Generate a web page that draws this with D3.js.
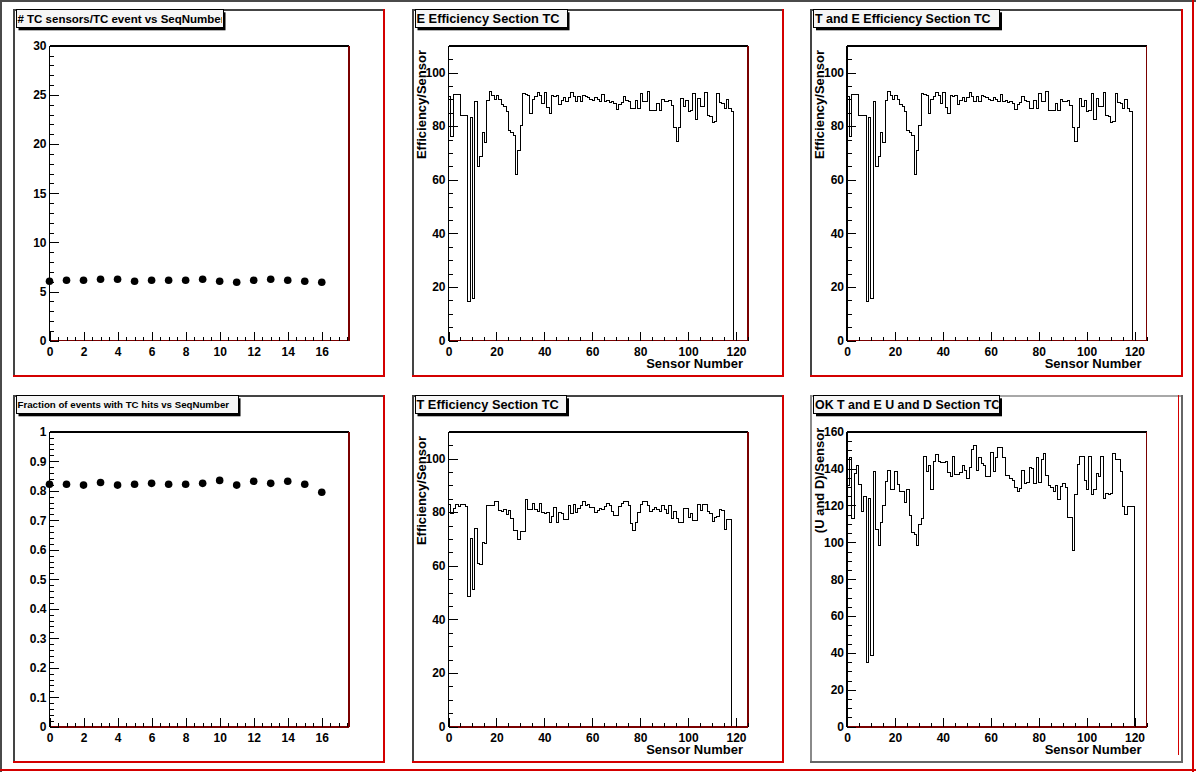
<!DOCTYPE html>
<html>
<head>
<meta charset="utf-8">
<script src="https://cdn.jsdelivr.net/npm/d3@7"></script>
<style>
  html, body { margin: 0; padding: 0; background: #fff; }
  svg { display: block; font-family: 'Liberation Sans', Arial, Helvetica, sans-serif; }
  .ejes .tick text { font-weight: bold; font-size: 12px; fill: #000; }
  .ejes .tick line { stroke: #000; shape-rendering: crispEdges; }
  .ejes .domain { display: none; }
</style>
</head>
<body>
<div id="canvas"></div>
<script>
// !DATOS
const seqNumber = [0, 1, 2, 3, 4, 5, 6, 7, 8, 9, 10, 11, 12, 13, 14, 15, 16]
const tcSensorsPerEvent = [6.04, 6.14, 6.14, 6.25, 6.25, 6.04, 6.14, 6.14, 6.14, 6.25, 6.04, 5.94, 6.14, 6.25, 6.14, 6.04, 5.94]
const fracEventsTcHits = [0.822, 0.822, 0.819, 0.828, 0.819, 0.822, 0.825, 0.822, 0.822, 0.825, 0.835, 0.819, 0.832, 0.825, 0.832, 0.822, 0.795]

// efficiency per sensor, one value per bin (bin i spans i..i+1)
const effE = [
  91, 76.3, 91.8, 91.8, 91.8, 84.1, 84.1, 84, 14.8, 83.2,
  15.8, 89.3, 65.1, 68.8, 77.6, 73.9, 89.7, 92.8, 91.6, 90.1,
  91.6, 89.9, 88.2, 87.5, 85.6, 78.5, 77.6, 76.6, 62.1, 70.8,
  80.4, 92.2, 91.8, 91.3, 84.7, 90.1, 90.9, 92.5, 91.6, 88.4,
  92.4, 87, 84.7, 91.6, 90.9, 91.6, 88.1, 89.7, 90.7, 89.3,
  90.7, 92.4, 90.9, 89.1, 90.9, 89.1, 91.3, 90.9, 90.5, 90.1,
  89.7, 90.7, 90.1, 89.3, 91.9, 89.3, 89.7, 88.7, 89.3, 88.4,
  86.2, 88.1, 88.7, 90.9, 89.7, 89.3, 86.6, 86.6, 89.7, 86.6,
  92.2, 89.1, 89.1, 92.8, 86, 86, 86, 88.4, 86, 89.9,
  89.1, 89.1, 89.7, 87.8, 79.4, 74.4, 79.4, 90.3, 87.2, 89.7,
  85.3, 86, 92.2, 82.5, 90.3, 87.2, 87.2, 92.5, 84.1, 83.7,
  81.4, 81.6, 92.2, 88.9, 88.4, 86.6, 89.9, 86.6, 85.3
]
const effTE = [
  91, 76.3, 91.8, 91.8, 91.8, 84.1, 84.1, 84, 14.8, 83.2,
  15.8, 89.3, 65.1, 68.8, 77.6, 73.9, 89.7, 92.8, 91.6, 90.1,
  91.6, 89.9, 88.2, 87.5, 85.6, 78.5, 77.6, 76.6, 62.1, 70.8,
  80.4, 92.2, 91.8, 91.3, 84.7, 90.1, 90.9, 92.5, 91.6, 88.4,
  92.4, 87, 84.7, 91.6, 90.9, 91.6, 88.1, 89.7, 90.7, 89.3,
  90.7, 92.4, 90.9, 89.1, 90.9, 89.1, 91.3, 90.9, 90.5, 90.1,
  89.7, 90.7, 90.1, 89.3, 91.9, 89.3, 89.7, 88.7, 89.3, 88.4,
  86.2, 88.1, 88.7, 90.9, 89.7, 89.3, 86.6, 86.6, 89.7, 86.6,
  92.2, 89.1, 89.1, 92.8, 86, 86, 86, 88.4, 86, 89.9,
  89.1, 89.1, 89.7, 87.8, 79.4, 74.4, 79.4, 90.3, 87.2, 89.7,
  85.3, 86, 92.2, 82.5, 90.3, 87.2, 87.2, 92.5, 84.1, 83.7,
  81.4, 81.6, 92.2, 88.9, 88.4, 86.6, 89.9, 86.6, 85.3
]
const effT = [
  83, 79.5, 81.5, 83, 82, 83, 83, 82, 48.5, 70,
  51, 74, 61, 60.3, 68.5, 68.3, 82.5, 82.5, 82.3, 84,
  84, 80.5, 80.3, 81, 79, 80.7, 77.6, 73, 73, 69.8,
  72.8, 72.8, 84.7, 81, 81, 83.2, 81, 80.3, 83.2, 79.8,
  79.5, 80, 76, 78.3, 81.6, 76, 80, 79.5, 77.4, 77.4,
  82.4, 79.5, 83, 80, 81.3, 82.5, 83.8, 82.4, 83, 81.6,
  81.6, 79.9, 80.7, 81.3, 81.1, 82, 83.2, 82.6, 80.4, 78.9,
  78.6, 82, 83.2, 83.8, 83.8, 82.4, 75.8, 73.3, 76, 79.9,
  83, 84.1, 83.8, 82.4, 80.4, 81, 81.6, 81, 80.4, 82.4,
  81, 79.5, 82.4, 77.6, 80.4, 77.6, 76, 76, 81.4, 81.4,
  77.9, 79.5, 77, 77, 83, 80.7, 83, 83, 80.4, 79.5,
  76.4, 77.9, 78.2, 81.1, 80.7, 73.5, 77.2, 77.2
]
const okUD = [
  130.6, 146, 113, 137.4, 141.4, 131.5, 116.6, 124.6, 35, 123.9,
  38.7, 138.2, 107, 98.4, 110.7, 120, 133, 139.2, 128.8, 128.8,
  138.2, 131.3, 127.8, 127.3, 121.5, 128.4, 114.3, 105.2, 104, 98.4,
  109.8, 113, 146.5, 138.3, 141.4, 128.4, 143.6, 147.7, 144.1, 143.2,
  143.2, 143.6, 137.8, 135.6, 146.5, 136.9, 136.9, 137.8, 141.8, 139.2,
  134.5, 140.5, 150.5, 152.3, 138.7, 146, 142.9, 141.4, 135.6, 135.6,
  148.6, 138.2, 146, 151.4, 151.4, 146, 136, 136, 134.5, 133.3,
  130, 127.8, 129.1, 138.7, 132, 132.4, 140.5, 140, 132, 146,
  132.4, 144.7, 148.1, 136, 130.6, 129.7, 127.8, 130.6, 123.3, 130.2,
  132, 130, 113.4, 113.4, 95.7, 126, 142.3, 146.5, 146.8, 133.3,
  128.8, 146.5, 126, 128.8, 137.3, 135.6, 146.8, 123.7, 126.6, 126,
  126.6, 148.3, 145, 145, 138.2, 119.7, 115.2, 119.3, 119.3, 119.3
]

// !TICKS
const seqTicks = [0, 2, 4, 6, 8, 10, 12, 14, 16]
const tcTicks = [0, 5, 10, 15, 20, 25, 30]
const fracTicks = [0, 0.1, 0.2, 0.3, 0.4, 0.5, 0.6, 0.7, 0.8, 0.9, 1]
const sensorTicks = [0, 20, 40, 60, 80, 100, 120]
const effTicks = [0, 20, 40, 60, 80, 100]
const okTicks = [0, 20, 40, 60, 80, 100, 120, 140, 160]

const W = 1196
const H = 772
const padW = 372.5
const padH = 368
const plotX = 37
const plotY = 37.2
const plotW = 299.5
const plotH = 295

const svg = d3.select('#canvas')
  .append('svg')
  .attr('width', W)
  .attr('height', H)

svg.append('rect')
  .attr('width', W)
  .attr('height', H)
  .attr('fill', '#ffffff')

// !BORDE DEL CANVAS
const edge = (g, x1, y1, x2, y2, color, w) =>
  g.append('line')
    .attr('x1', x1).attr('y1', y1)
    .attr('x2', x2).attr('y2', y2)
    .attr('stroke', color)
    .attr('stroke-width', w)
    .attr('shape-rendering', 'crispEdges')

edge(svg, 0, 1, W, 1, '#4a4a4a', 2)
edge(svg, 1, 0, 1, H, '#4a4a4a', 2)
edge(svg, 0, H - 2, W, H - 2, '#d40000', 2)
edge(svg, W - 3, 0, W - 3, H, '#d40000', 2)

const redPad = { left: '#444444', top: '#444444', right: '#d40000', bottom: '#d40000' }
const greyPad = { left: '#8a8a8a', top: '#a8a8a8', right: '#666666', bottom: '#666666', inner: '#d40000' }

const pads = [
  { x: 12.5, y: 8.5, title: '# TC sensors/TC event vs SeqNumber', titleSize: 11.5, boxW: 207,
    type: 'graph', xs: seqNumber, ys: tcSensorsPerEvent, xDomain: [0, 17.6], yDomain: [0, 30],
    xMajor: seqTicks, xMinor: 0.5, yMajor: tcTicks, yMinor: 1, fmt: d3.format('d'), border: redPad },
  { x: 411.5, y: 8.5, title: 'E Efficiency Section TC', titleSize: 12.8, boxW: 152,
    type: 'hist', vals: effE, xDomain: [0, 125], yDomain: [0, 110],
    xMajor: sensorTicks, xMinor: 5, yMajor: effTicks, yMinor: 5, fmt: d3.format('d'),
    xTitle: 'Sensor Number', yTitle: 'Efficiency/Sensor', yTitleEnd: 4.3, border: redPad },
  { x: 810, y: 8.5, title: 'T and E Efficiency Section TC', titleSize: 12.45, boxW: 186,
    type: 'hist', vals: effTE, xDomain: [0, 125], yDomain: [0, 110],
    xMajor: sensorTicks, xMinor: 5, yMajor: effTicks, yMinor: 5, fmt: d3.format('d'),
    xTitle: 'Sensor Number', yTitle: 'Efficiency/Sensor', yTitleEnd: 4.3, border: redPad },
  { x: 12.5, y: 394.5, title: 'Fraction of events with TC hits vs SeqNumber', titleSize: 9.7, boxW: 222,
    type: 'graph', xs: seqNumber, ys: fracEventsTcHits, xDomain: [0, 17.6], yDomain: [0, 1],
    xMajor: seqTicks, xMinor: 0.5, yMajor: fracTicks, yMinor: 0.02, fmt: d3.format('~g'), border: redPad },
  { x: 411.5, y: 394.5, title: 'T Efficiency Section TC', titleSize: 12.8, boxW: 151.5,
    type: 'hist', vals: effT, xDomain: [0, 125], yDomain: [0, 110],
    xMajor: sensorTicks, xMinor: 5, yMajor: effTicks, yMinor: 5, fmt: d3.format('d'),
    xTitle: 'Sensor Number', yTitle: 'Efficiency/Sensor', yTitleEnd: 4.3, border: redPad },
  { x: 810, y: 394.5, title: 'OK T and E U and D Section TC', titleSize: 12.4, boxW: 186,
    type: 'hist', vals: okUD, xDomain: [0, 125], yDomain: [0, 160],
    xMajor: sensorTicks, xMinor: 5, yMajor: okTicks, yMinor: 5, fmt: d3.format('d'),
    xTitle: 'Sensor Number', yTitle: '(U and D)/Sensor', yTitleEnd: -4, border: greyPad },
]

function drawPad(c, idx) {
  const g = svg.append('g').attr('transform', `translate(${c.x}, ${c.y})`)

  // !BORDE DEL PAD
  edge(g, 0, 1, padW, 1, c.border.top, 2)
  edge(g, 1, 0, 1, padH, c.border.left, 2)
  if (c.border.inner) edge(g, padW - 4, 0, padW - 4, padH - 8, c.border.inner, 1.5)
  edge(g, padW - 1, 0, padW - 1, padH, c.border.right, 2)
  edge(g, 0, padH - 1, padW, padH - 1, c.border.bottom, 2)

  const p = g.append('g').attr('transform', `translate(${plotX}, ${plotY})`)

  const x = d3.scaleLinear().domain(c.xDomain).range([0, plotW])
  const y = d3.scaleLinear().domain(c.yDomain).range([plotH, 0])

  // !MARCAS
  if (c.type === 'hist') {
    const n = c.vals.length
    const pts = [[0, 0]].concat(c.vals.map((v, i) => [i, v]), [[n, 0]])
    const linea = d3.line()
      .x((d) => x(d[0]))
      .y((d) => y(d[1]))
      .curve(d3.curveStepAfter)
    p.append('path')
      .attr('d', linea(pts))
      .attr('fill', 'none')
      .attr('stroke', '#000')
      .attr('stroke-width', 1)
      .attr('shape-rendering', 'crispEdges')
  } else {
    p.selectAll('circle')
      .data(c.ys)
      .enter()
      .append('circle')
      .attr('cx', (d, i) => x(c.xs[i]))
      .attr('cy', (d) => y(d))
      .attr('r', 3.8)
      .attr('fill', '#000')
  }

  // !MARCO
  edge(p, 0, 0, plotW, 0, '#000', 1.6)
  edge(p, 0, 0, 0, plotH, '#000', 1.6)
  edge(p, plotW, 0, plotW, plotH, '#7a0000', 1.6)
  edge(p, 0, plotH, plotW, plotH, '#7a0000', 1.6)

  // !EJES
  const xMinorTicks = d3.range(c.xDomain[0], c.xDomain[1] + 1e-9, c.xMinor)
  const yMinorTicks = d3.range(c.yDomain[0], c.yDomain[1] + 1e-9, c.yMinor)

  p.append('g')
    .attr('class', 'ejes')
    .attr('transform', `translate(0, ${plotH})`)
    .call(d3.axisBottom(x).tickValues(xMinorTicks).tickSizeInner(-4).tickSizeOuter(0).tickFormat(''))
  p.append('g')
    .attr('class', 'ejes')
    .attr('transform', `translate(0, ${plotH})`)
    .call(d3.axisBottom(x).tickValues(c.xMajor).tickSizeInner(-8.5).tickSizeOuter(0).tickPadding(7).tickFormat(c.fmt))

  p.append('g')
    .attr('class', 'ejes')
    .call(d3.axisLeft(y).tickValues(yMinorTicks).tickSizeInner(-4.5).tickSizeOuter(0).tickFormat(''))
  p.append('g')
    .attr('class', 'ejes')
    .call(d3.axisLeft(y).tickValues(c.yMajor).tickSizeInner(-9).tickSizeOuter(0).tickPadding(3).tickFormat(c.fmt))

  if (c.xTitle) {
    p.append('text')
      .attr('x', plotW - 5)
      .attr('y', plotH + 27)
      .attr('text-anchor', 'end')
      .attr('font-size', 13)
      .attr('font-weight', 'bold')
      .text(c.xTitle)
  }
  if (c.yTitle) {
    p.append('text')
      .attr('transform', `translate(-23, ${c.yTitleEnd}) rotate(-90)`)
      .attr('text-anchor', 'end')
      .attr('font-size', 13)
      .attr('font-weight', 'bold')
      .text(c.yTitle)
  }

  // !TITULO
  const bx = 3.5
  const by = 1.3
  const bh = 18
  g.append('rect')
    .attr('x', bx + 2.5).attr('y', by + 2.5)
    .attr('width', c.boxW).attr('height', bh)
    .attr('fill', '#000')
  g.append('rect')
    .attr('x', bx).attr('y', by)
    .attr('width', c.boxW).attr('height', bh)
    .attr('fill', '#f6f6f6')
    .attr('stroke', '#000')
    .attr('stroke-width', 1)
    .attr('shape-rendering', 'crispEdges')

  g.append('clipPath')
    .attr('id', `clip-title-${idx}`)
    .append('rect')
    .attr('x', bx).attr('y', by)
    .attr('width', c.boxW - 1).attr('height', bh)

  g.append('text')
    .attr('clip-path', `url(#clip-title-${idx})`)
    .attr('x', bx + 1.5)
    .attr('y', by + bh / 2 + c.titleSize * 0.36)
    .attr('font-size', c.titleSize)
    .attr('font-weight', 'bold')
    .text(c.title)
}

pads.forEach(drawPad)
</script>
</body>
</html>
